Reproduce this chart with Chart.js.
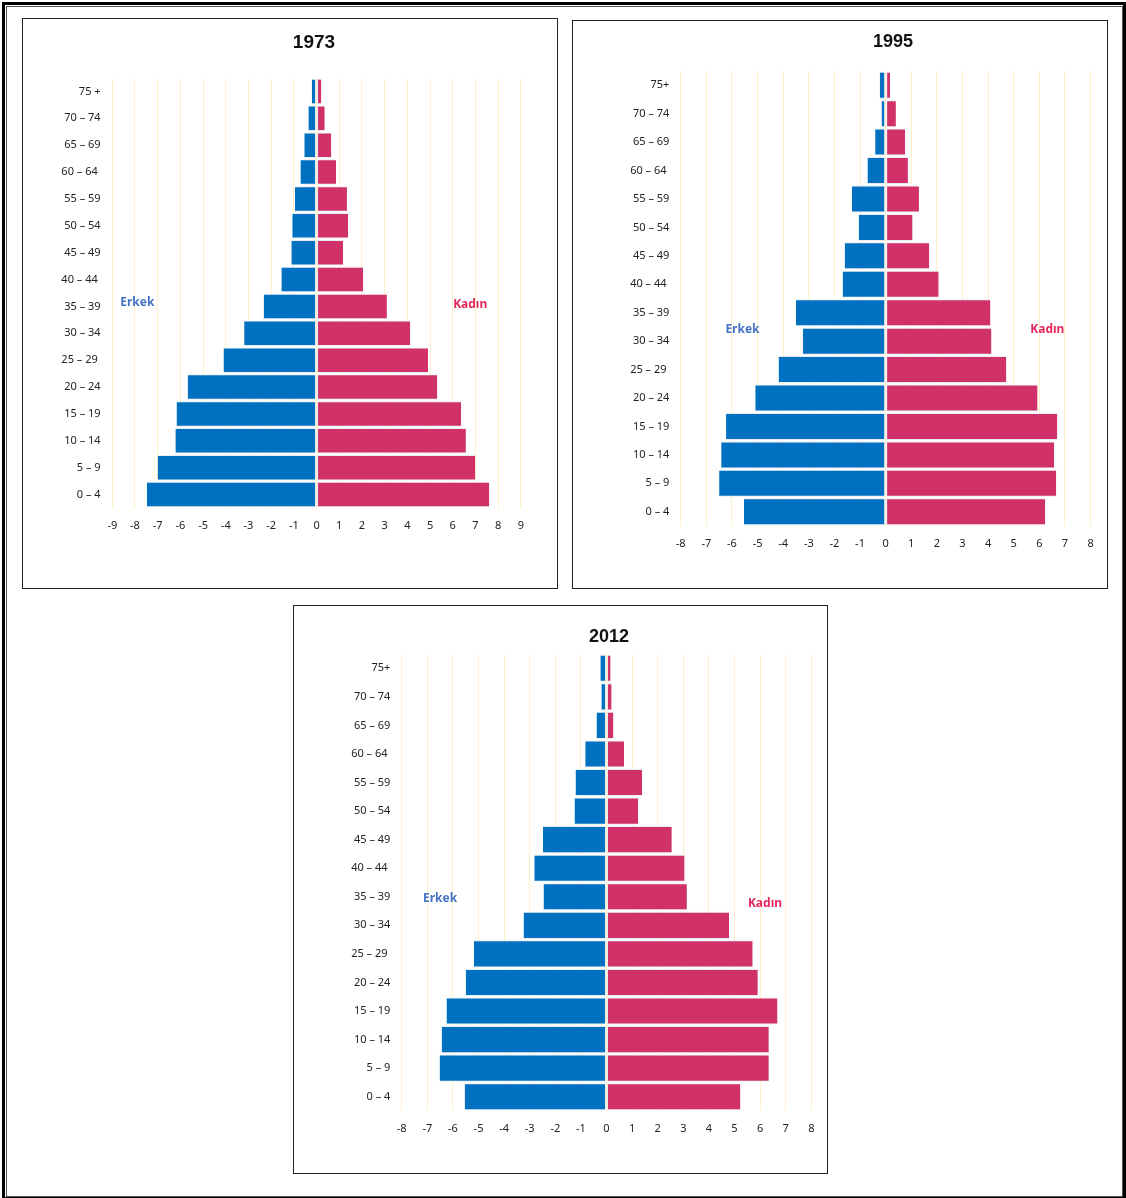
<!DOCTYPE html>
<html>
<head>
<meta charset="utf-8">
<script src="https://cdn.jsdelivr.net/npm/chart.js@4.4.1/dist/chart.umd.min.js"></script>
<style>
  html, body { margin: 0; padding: 0; background: #fff; }
  #page { position: relative; width: 1126px; height: 1198px; overflow: hidden; background: #fff; }
  .frame { position: absolute; box-sizing: border-box; pointer-events: none; }
  canvas { position: absolute; }
</style>
</head>
<body>
<div id="page">
  <div class="frame" style="left:2px;top:2px;width:1124px;height:1198px;border:3px solid #000;"></div>
  <div class="frame" style="left:6px;top:6px;width:1117px;height:1191px;border:1px solid #555;"></div>

  <canvas id="c1973" width="535" height="570" style="left:22px;top:18px;"></canvas>
  <canvas id="c1995" width="535" height="568" style="left:572px;top:20px;"></canvas>
  <canvas id="c2012" width="534" height="568" style="left:293px;top:605px;"></canvas>

  <div class="frame" style="left:22px;top:18px;width:536px;height:571px;border:1px solid #222;"></div>
  <div class="frame" style="left:572px;top:20px;width:536px;height:569px;border:1px solid #222;"></div>
  <div class="frame" style="left:293px;top:605px;width:535px;height:569px;border:1px solid #222;"></div>
</div>
<script>
// ---- data (top row first) ----
const categories1973 = ["75 +", "70 – 74", "65 – 69", "60 – 64 ", "55 – 59", "50 – 54", "45 – 49", "40 – 44 ", "35 – 39", "30 – 34", "25 – 29 ", "20 – 24", "15 – 19", "10 – 14", "5 – 9", "0 – 4"];
const categoriesLater = ["75+", "70 – 74", "65 – 69", "60 – 64 ", "55 – 59", "50 – 54", "45 – 49", "40 – 44 ", "35 – 39", "30 – 34", "25 – 29 ", "20 – 24", "15 – 19", "10 – 14", "5 – 9", "0 – 4"];

const erkek1973 = [-0.21, -0.36, -0.54, -0.71, -0.95, -1.07, -1.11, -1.55, -2.33, -3.19, -4.10, -5.68, -6.17, -6.22, -7.00, -7.48];
const kadin1973 = [0.21, 0.36, 0.65, 0.86, 1.34, 1.39, 1.17, 2.05, 3.10, 4.13, 4.91, 5.32, 6.37, 6.58, 6.99, 7.61];

const erkek1995 = [-0.23, -0.16, -0.41, -0.71, -1.32, -1.05, -1.60, -1.68, -3.50, -3.23, -4.18, -5.09, -6.23, -6.42, -6.50, -5.53];
const kadin1995 = [0.17, 0.40, 0.76, 0.87, 1.30, 1.05, 1.70, 2.07, 4.09, 4.13, 4.71, 5.93, 6.70, 6.58, 6.66, 6.23];

const erkek2012 = [-0.24, -0.20, -0.39, -0.83, -1.21, -1.25, -2.48, -2.82, -2.46, -3.24, -5.18, -5.50, -6.25, -6.44, -6.52, -5.54];
const kadin2012 = [0.16, 0.20, 0.27, 0.69, 1.39, 1.24, 2.55, 3.05, 3.14, 4.79, 5.71, 5.91, 6.68, 6.34, 6.34, 5.23];

const axisRange1973 = 9;
const axisRangeLater = 8;

const seriesNames = ["Erkek", "Kadın"];
const titles = ["1973", "1995", "2012"];

// ---- styles ----
const BLUE = '#0070C0';
const PINK = '#CF3168';
const ERKEK_TXT = '#4472C4';
const KADIN_TXT = '#E4285C';
const GRID = '#FFF0C6';
const EDGE = 'rgba(232,236,242,0.95)';
const LABEL_FONT = { family: "'Noto Sans', 'DejaVu Sans', sans-serif", size: 11 };

const decor = {
  id: 'decor',
  afterDraw(chart, args, opts) {
    const ctx = chart.ctx;
    const xs = chart.scales.x, ys = chart.scales.y;
    ctx.save();
    // title
    ctx.fillStyle = '#111';
    ctx.font = 'bold ' + opts.titleSize + "px 'Liberation Sans', Arial, sans-serif";
    ctx.textAlign = 'center';
    ctx.textBaseline = 'middle';
    ctx.fillText(opts.title, opts.titleX, opts.titleY);
    // side labels
    ctx.font = "bold 12px 'Noto Sans', 'DejaVu Sans', sans-serif";
    (opts.items || []).forEach(it => {
      ctx.fillStyle = it.color;
      ctx.fillText(it.text, xs.getPixelForValue(it.x), ys.getPixelForValue(it.y));
    });
    ctx.restore();
  }
};

function makeChart(id, cfg) {
  const el = document.getElementById(id);
  return new Chart(el, {
    type: 'bar',
    data: {
      labels: cfg.labels,
      datasets: [
        { label: seriesNames[0], data: cfg.erkek, backgroundColor: BLUE, borderColor: EDGE,
          borderWidth: { top: 1, bottom: 1, left: 0, right: 1 }, borderSkipped: false, barPercentage: 0.95, categoryPercentage: 1.0 },
        { label: seriesNames[1], data: cfg.kadin, backgroundColor: PINK, borderColor: EDGE,
          borderWidth: { top: 1, bottom: 1, left: 1, right: 0 }, borderSkipped: false, barPercentage: 0.95, categoryPercentage: 1.0 }
      ]
    },
    options: {
      indexAxis: 'y',
      responsive: false,
      animation: false,
      devicePixelRatio: 1,
      layout: { padding: { top: cfg.padTop, left: 0, right: cfg.padRight, bottom: cfg.padBottom } },
      plugins: {
        legend: { display: false },
        tooltip: { enabled: false },
        title: { display: false },
        decor: { title: cfg.title, titleSize: cfg.titleSize, titleX: cfg.titleX, titleY: cfg.titleY, items: cfg.side }
      },
      scales: {
        x: {
          stacked: true,
          min: -cfg.range,
          max: cfg.range,
          ticks: { stepSize: 1, padding: 11, color: '#222', font: LABEL_FONT, autoSkip: false, maxRotation: 0, callback: v => String(v) },
          grid: { color: GRID, lineWidth: 1, drawTicks: false },
          border: { display: false },
          afterFit: s => { s.height = 30; }
        },
        y: {
          stacked: true,
          ticks: { padding: cfg.yPad, color: '#222', font: LABEL_FONT, autoSkip: false },
          grid: { display: false, drawTicks: false },
          border: { display: false },
          afterFit: s => { s.width = cfg.yWidth; }
        }
      }
    },
    plugins: [decor]
  });
}

makeChart('c1973', {
  labels: categories1973, erkek: erkek1973, kadin: kadin1973, range: axisRange1973,
  title: titles[0], titleSize: 19, titleX: 292, titleY: 25,
  padTop: 60, yWidth: 90.3, yPad: 11.7, padRight: 36.2, padBottom: 50,
  side: [ { text: seriesNames[0], x: -7.9, y: 7.87, color: ERKEK_TXT }, { text: seriesNames[1], x: 6.77, y: 7.92, color: KADIN_TXT } ]
});

makeChart('c1995', {
  labels: categoriesLater, erkek: erkek1995, kadin: kadin1995, range: axisRangeLater,
  title: titles[1], titleSize: 18, titleX: 321, titleY: 22,
  padTop: 51, yWidth: 108.7, yPad: 11.3, padRight: 16.4, padBottom: 32,
  side: [ { text: seriesNames[0], x: -5.59, y: 8.6, color: ERKEK_TXT }, { text: seriesNames[1], x: 6.31, y: 8.6, color: KADIN_TXT } ]
});

makeChart('c2012', {
  labels: categoriesLater, erkek: erkek2012, kadin: kadin2012, range: axisRangeLater,
  title: titles[2], titleSize: 18, titleX: 316, titleY: 32,
  padTop: 49, yWidth: 108.7, yPad: 11.3, padRight: 15.7, padBottom: 32,
  side: [ { text: seriesNames[0], x: -6.5, y: 8.07, color: ERKEK_TXT }, { text: seriesNames[1], x: 6.19, y: 8.24, color: KADIN_TXT } ]
});
</script>
</body>
</html>
